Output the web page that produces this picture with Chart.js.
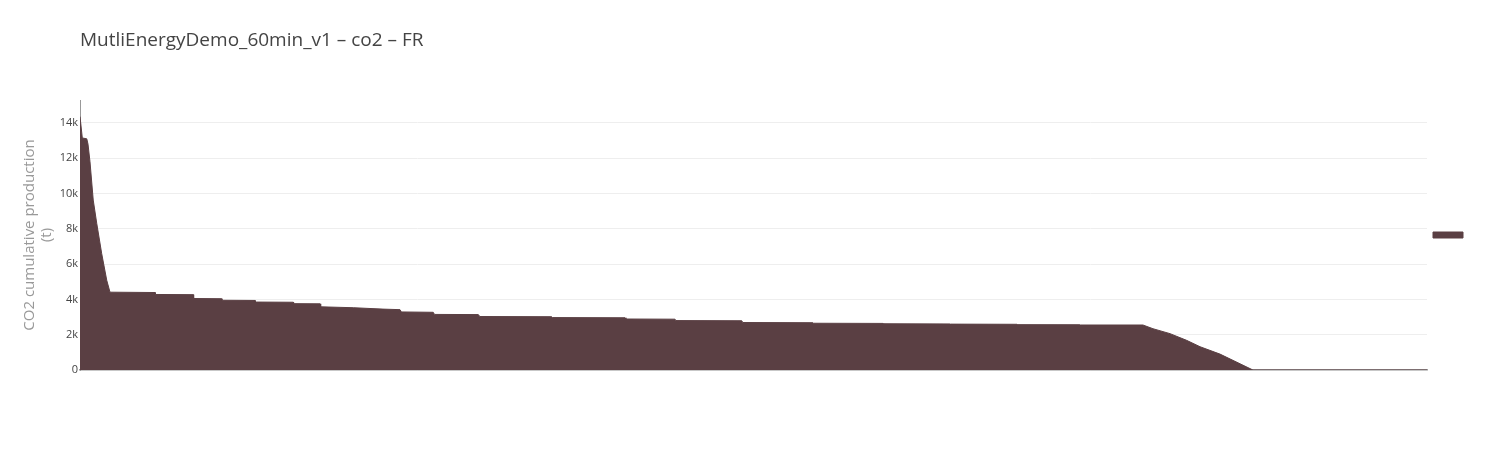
<!DOCTYPE html>
<html>
<head>
<meta charset="utf-8">
<script src="https://cdn.jsdelivr.net/npm/chart.js@4/dist/chart.umd.min.js"></script>
<style>
  html, body { margin: 0; padding: 0; background: #fff; }
  #wrap { position: relative; width: 1508px; height: 450px; }
  #title {
    position: absolute; left: 80px; top: 26px;
    font-family: "Open Sans", sans-serif; font-size: 19px; color: #444;
    white-space: nowrap;
  }
</style>
</head>
<body>
<div id="wrap">
  <div id="title">MutliEnergyDemo_60min_v1 – co2 – FR</div>
  <canvas id="chart" width="1508" height="450"></canvas>
</div>
<script>
// hour index (sorted duration curve) and CO2 cumulative production in t
const hours = [0, 15, 44, 52, 65, 86, 109, 141, 174, 195,
  488, 490, 737, 739, 921, 923, 1138, 1140, 1387, 1389,
  1561, 1565, 1777, 1970, 2081, 2090, 2297, 2305, 2590, 2600,
  3067, 3072, 3544, 3550, 3869, 3875, 4303, 4310, 4766, 4770,
  5222, 5226, 5657, 5660, 6093, 6096, 6502, 6506, 6912, 6977,
  7088, 7196, 7283, 7413, 7627, 8759];
const co2 = [14360, 13150, 13100, 12800, 11800, 9630, 8300, 6600, 5080, 4410,
  4390, 4280, 4270, 4050, 4040, 3950, 3940, 3850, 3840, 3760,
  3750, 3580, 3530, 3450, 3420, 3290, 3270, 3150, 3140, 3030,
  3020, 2970, 2960, 2890, 2880, 2800, 2790, 2690, 2680, 2650,
  2640, 2620, 2610, 2600, 2590, 2570, 2565, 2550, 2550, 2340,
  2060, 1680, 1320, 900, 0, 0];
const yTicks = [0, 2000, 4000, 6000, 8000, 10000, 12000, 14000];

const fillColor = '#5a3f43';
const font = "'Open Sans', sans-serif";

new Chart(document.getElementById('chart'), {
  type: 'line',
  data: {
    datasets: [{
      label: '',
      data: hours.map((h, i) => ({ x: h, y: co2[i] })),
      fill: 'origin',
      backgroundColor: fillColor,
      borderColor: fillColor,
      borderWidth: 1,
      pointRadius: 0,
      tension: 0,
    }],
  },
  options: {
    responsive: false,
    animation: false,
    layout: { padding: { top: 100, right: 29, left: 0, bottom: 80 } },
    plugins: {
      title: { display: false },
      tooltip: { enabled: false },
      legend: {
        display: true,
        position: 'right',
        align: 'center',
        labels: { boxWidth: 30, boxHeight: 6, padding: 6, font: { size: 12, family: font } },
      },
    },
    scales: {
      x: {
        type: 'linear',
        min: hours[0],
        max: hours[hours.length - 1],
        ticks: { display: false },
        grid: { display: false },
        border: { display: true, color: '#a0a0a0', width: 1.5 },
        afterFit: (scale) => { scale.height = 0; },
      },
      y: {
        min: 0,
        max: 15300,
        afterBuildTicks: (scale) => { scale.ticks = yTicks.map(v => ({ value: v })); },
        ticks: {
          padding: 2,
          color: '#444',
          font: { size: 11, family: font },
          callback: (v) => (v === 0 ? '0' : v / 1000 + 'k'),
        },
        grid: { color: '#eeeeee', drawTicks: false },
        border: { display: true, color: '#999', width: 1 },
        title: {
          display: true,
          text: ['CO2 cumulative production', '(t)'],
          color: '#999',
          font: { size: 15, family: font, lineHeight: 1.15 },
          padding: { top: 21, bottom: 0 },
        },
        afterFit: (scale) => { scale.width = 80; },
      },
    },
  },
});
</script>
</body>
</html>
